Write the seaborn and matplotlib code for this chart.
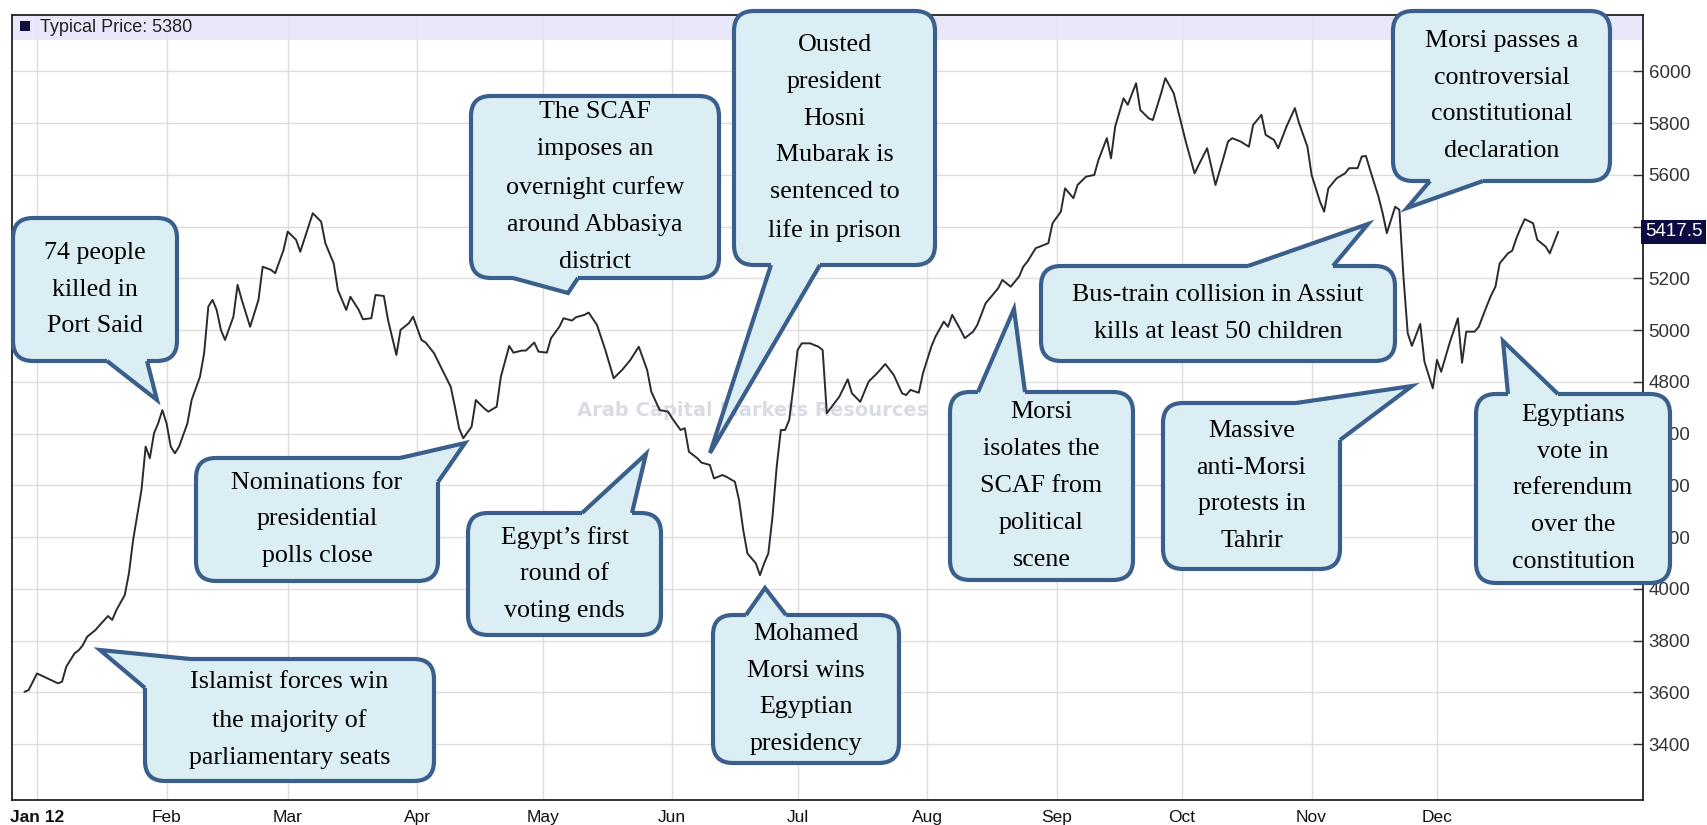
import matplotlib
matplotlib.use("Agg")
import numpy as np
import pandas as pd
import matplotlib.pyplot as plt
from matplotlib import font_manager
from matplotlib.patches import FancyBboxPatch, Polygon, Rectangle
import seaborn as sns

# ---------------------------------------------------------------- data
# trading sessions, counted in days from 1 Jan 2012
day_offsets = [
    -3, -2, 0, 2, 5, 6, 7, 9, 10, 11, 12, 13, 14, 15, 17, 18, 19, 21, 22, 23,
    25, 26, 27, 28, 29, 30, 31, 32, 33, 34, 36, 37, 39, 40, 41, 42, 43, 44, 45, 47,
    48, 49, 51, 53, 54, 56, 57, 59, 60, 62,
    63, 66, 68, 69, 71, 72, 74, 75, 77, 78, 80, 81, 83, 84, 86, 87, 89, 90, 92, 93,
    95, 97, 99, 100, 101, 102, 104, 105, 107, 108, 110, 111, 113, 114, 116, 117,
    119, 120, 122, 123, 125, 126, 128, 129,
    131, 132, 134, 136, 138, 140, 142, 144, 146, 147, 149, 151, 152, 154, 155, 156,
    158, 159, 161, 162, 164, 165, 167, 168, 169, 170, 172, 173, 174, 175, 176, 177,
    178, 179, 180, 181, 182, 183, 185, 187, 188, 189, 192, 194, 195, 197,
    199, 201, 203, 205, 207, 208, 209, 211, 212, 214, 215, 217, 218, 219, 221, 222,
    224, 225, 227, 228, 230, 231, 233, 235, 236, 237, 239, 240, 242, 243, 245, 246,
    248, 249, 251, 253, 254, 256, 257, 258, 260, 261, 263,
    264, 266, 267, 269, 270, 272, 273, 275, 277, 278, 280, 281, 282, 284, 285, 286,
    288, 290, 291, 293, 294, 296, 297, 299, 301, 302, 304, 305, 307, 308, 309, 311,
    313, 314, 316, 317, 318, 319, 321, 322, 323, 325, 326, 327, 328, 329, 331,
    332, 334, 335, 336, 338, 340, 341, 342, 344, 345, 347, 348, 349, 350, 352, 353,
    354, 355, 356, 358, 359, 361, 362, 364,
]

typical_price = [
    3602, 3609, 3673, 3658, 3635, 3641, 3699, 3751, 3763, 3783, 3815, 3828, 3841, 3860,
    3895, 3880, 3918, 3976, 4060, 4189, 4382, 4550, 4505, 4601, 4640, 4691, 4640, 4550,
    4524, 4550, 4640, 4730, 4820, 4911, 5091, 5117, 5078, 5001, 4962, 5052, 5175, 5117,
    5013, 5117, 5245, 5233, 5220, 5310, 5381, 5349,
    5303, 5452, 5419, 5336, 5258, 5155, 5078, 5129, 5078, 5042, 5046, 5136, 5132, 5039,
    4904, 5001, 5027, 5052, 4962, 4952, 4911, 4846, 4781, 4704, 4621, 4582, 4627, 4730,
    4698, 4685, 4704, 4820, 4939, 4913, 4921, 4921, 4952, 4917, 4913, 4969, 5013, 5046,
    5037, 5050,
    5059, 5068, 5020, 4923, 4814, 4846, 4885, 4936, 4846, 4762, 4691, 4685, 4659, 4614,
    4621, 4530, 4505, 4488, 4479, 4427, 4440, 4433, 4414, 4343, 4227, 4137, 4099, 4053,
    4099, 4137, 4279, 4472, 4614, 4614, 4653, 4781, 4923, 4949, 4949, 4936, 4923, 4679,
    4743, 4810, 4756, 4723,
    4801, 4833, 4869, 4827, 4756, 4749, 4769, 4758, 4833, 4936, 4975, 5033, 5013, 5059,
    5001, 4969, 4994, 5020, 5104, 5123, 5162, 5194, 5168, 5207, 5245, 5265, 5317, 5323,
    5336, 5413, 5458, 5548, 5510, 5561, 5593, 5600, 5658, 5742, 5664, 5787, 5896, 5871,
    5954,
    5851, 5819, 5812, 5916, 5974, 5916, 5851, 5722, 5606, 5639, 5703, 5632, 5561, 5671,
    5729, 5742, 5729, 5709, 5793, 5832, 5755, 5735, 5703, 5787, 5858, 5800, 5709, 5600,
    5497, 5458, 5548, 5587, 5606, 5626, 5626, 5671, 5673, 5619, 5516, 5452, 5375, 5477,
    5465, 5202, 4988, 4939, 5024,
    4878, 4775, 4885, 4839, 4949, 5046, 4874, 4994, 4994, 5013, 5097, 5136, 5168, 5258,
    5297, 5307, 5355, 5394, 5429, 5413, 5349, 5323, 5297, 5380,
]

month_starts = ["2012-01-01", "2012-02-01", "2012-03-01", "2012-04-01", "2012-05-01",
                "2012-06-01", "2012-07-01", "2012-08-01", "2012-09-01", "2012-10-01",
                "2012-11-01", "2012-12-01"]
month_labels = ["Jan 12", "Feb", "Mar", "Apr", "May", "Jun", "Jul", "Aug", "Sep",
                "Oct", "Nov", "Dec"]
price_ticks = [3400, 3600, 3800, 4000, 4200, 4400, 4600, 4800, 5000, 5200, 5400,
               5600, 5800, 6000]
last_trade = 5417.5
legend_text = "Typical Price: 5380"
watermark = "Arab Capital Markets Resources"

event_notes = [
    "74 people\nkilled in\nPort Said",
    "Islamist forces win\nthe majority of\nparliamentary seats",
    "Nominations for\npresidential\npolls close",
    "The SCAF\nimposes an\novernight curfew\naround Abbasiya\ndistrict",
    "Ousted\npresident\nHosni\nMubarak is\nsentenced to\nlife in prison",
    "Egypt\u2019s first\nround of\nvoting ends",
    "Mohamed\nMorsi wins\nEgyptian\npresidency",
    "Morsi\nisolates the\nSCAF from\npolitical\nscene",
    "Bus-train collision in Assiut\nkills at least 50 children",
    "Morsi passes a\ncontroversial\nconstitutional\ndeclaration",
    "Massive\nanti-Morsi\nprotests in\nTahrir",
    "Egyptians\nvote in\nreferendum\nover the\nconstitution",
]

# ------------------------------------------------------- callout layout
# pixel layout of each speech bubble: box (left, top, right, bottom),
# pointer tip, and the two points where the pointer meets the box
callout_layout = [
    ((13, 218, 177, 361), (157, 400), ((107, 361), (147, 361))),
    ((145, 659, 434, 781), (100, 650), ((190, 659), (145, 688))),
    ((196, 458, 438, 581), (465, 443), ((400, 458), (438, 482))),
    ((471, 96, 719, 278), (568, 293), ((513, 278), (578, 278))),
    ((734, 11, 935, 265), (710, 453), ((771, 265), (820, 265))),
    ((468, 513, 661, 635), (646, 454), ((582, 513), (632, 513))),
    ((713, 615, 899, 763), (765, 588), ((746, 615), (786, 615))),
    ((950, 392, 1133, 580), (1014, 309), ((978, 392), (1025, 392))),
    ((1041, 266, 1395, 361), (1368, 224), ((1248, 266), (1333, 266))),
    ((1393, 11, 1610, 181), (1407, 208), ((1430, 181), (1483, 181))),
    ((1163, 403, 1340, 569), (1412, 386), ((1296, 403), (1340, 440))),
    ((1476, 394, 1670, 583), (1503, 341), ((1508, 394), (1558, 394))),
]

# ---------------------------------------------------------------- style
sns.set_style("white")
plt.rcParams["font.family"] = ["Liberation Sans", "DejaVu Sans"]
installed = {f.name for f in font_manager.fontManager.ttflist}
narrow = "Liberation Sans Narrow" if "Liberation Sans Narrow" in installed else "Liberation Sans"

W, H = 1708, 825
fig = plt.figure(figsize=(W / 100, H / 100), dpi=100)
fig.patch.set_facecolor("white")

L, R, T, B = 12, 1643, 15, 800
ax = fig.add_axes([L / W, (H - B) / H, (R - L) / W, (B - T) / H])

start = pd.Timestamp("2012-01-01")
dates = start + pd.to_timedelta(day_offsets, unit="D")
frame = pd.DataFrame({"date": dates, "price": typical_price})

sns.lineplot(data=frame, x="date", y="price", ax=ax, color="#2a2a33",
             linewidth=1.4, estimator=None, zorder=3)

ax.set_xlim(start + pd.Timedelta(days=-5.98), start + pd.Timedelta(days=384.3))
ax.set_ylim(3184, 6218)

ax.set_xticks(pd.to_datetime(month_starts))
ax.set_xticklabels(month_labels, family=narrow, fontsize=12.5, color="#111111")
ax.get_xticklabels()[0].set_fontweight("bold")
ax.set_yticks(price_ticks)
# the 5400 level sits under the last-trade tag
ax.set_yticklabels(["" if v == 5400 else str(v) for v in price_ticks],
                   fontsize=13.5, color="#333333")
ax.yaxis.tick_right()
ax.tick_params(axis="y", direction="in", length=7, width=1, pad=4, color="#333333")
ax.tick_params(axis="x", direction="out", length=5, width=1, pad=2, color="#333333")
ax.set_xlabel("")
ax.set_ylabel("")
ax.grid(True, color="#dcdcdc", linewidth=1)
ax.set_axisbelow(True)
for side in ["left", "right", "bottom", "top"]:
    ax.spines[side].set_visible(True)
    ax.spines[side].set_color("#222222")
    ax.spines[side].set_linewidth(1.3)

# legend strip across the top of the plot
ax.add_patch(Rectangle((0, 1 - 25 / (B - T)), 1, 25 / (B - T), transform=ax.transAxes,
                       facecolor="#e6e6fa", edgecolor="none", alpha=0.9, zorder=1))

# faint watermark
ax.text((577 - L) / (R - L), (B - 411) / (B - T), watermark, transform=ax.transAxes,
        ha="left", va="center", fontsize=14, fontweight="bold", color="#d9dce5",
        family="DejaVu Sans", zorder=1)

# last trade tag on the price axis
ax.annotate(f"{last_trade:g}", xy=(1, last_trade), xycoords=("axes fraction", "data"),
            xytext=(1.5, -7), textcoords="offset points", ha="left", va="center",
            fontsize=13.5, color="white", annotation_clip=False, zorder=6,
            bbox=dict(boxstyle="square,pad=0.2", facecolor="#0c0c42", edgecolor="none"))

# -------------------------------------------------------- overlay layer
ov = fig.add_axes([0, 0, 1, 1])
ov.set_xlim(0, W)
ov.set_ylim(H, 0)
ov.axis("off")
ov.set_zorder(5)

ov.add_patch(Rectangle((20, 21), 10, 10, facecolor="#101040", edgecolor="none"))
ov.text(40, 27, legend_text, ha="left", va="center", fontsize=13,
        family="Liberation Sans", color="#222222")

FACE = "#dbeef4"
EDGE = "#3a5f8c"


def inward(point, box, step=6):
    x0, y0, x1, y1 = box
    px, py = point
    dist = {"l": abs(px - x0), "r": abs(px - x1), "t": abs(py - y0), "b": abs(py - y1)}
    side = min(dist, key=dist.get)
    return {"l": (px + step, py), "r": (px - step, py),
            "t": (px, py + step), "b": (px, py - step)}[side]


def callout(text, box, tip, base):
    x0, y0, x1, y1 = box
    ov.add_patch(FancyBboxPatch((x0, y0), x1 - x0, y1 - y0,
                                boxstyle="round,pad=0,rounding_size=20",
                                facecolor=FACE, edgecolor=EDGE, linewidth=3.0, zorder=2))
    b1, b2 = base
    ov.add_patch(Polygon([tip, b1, inward(b1, box), inward(b2, box), b2], closed=True,
                         facecolor=FACE, edgecolor="none", zorder=3))
    ov.plot([b1[0], tip[0], b2[0]], [b1[1], tip[1], b2[1]], color=EDGE, linewidth=3.0,
            solid_joinstyle="miter", solid_capstyle="butt", zorder=4)
    ov.text((x0 + x1) / 2, (y0 + y1) / 2, text, ha="center", va="center",
            multialignment="center", family="Liberation Serif", fontsize=18.7,
            linespacing=1.87, color="black", zorder=5)


for note, (box, tip, base) in zip(event_notes, callout_layout):
    callout(note, box, tip, base)

fig.savefig("out.png", dpi=100)
